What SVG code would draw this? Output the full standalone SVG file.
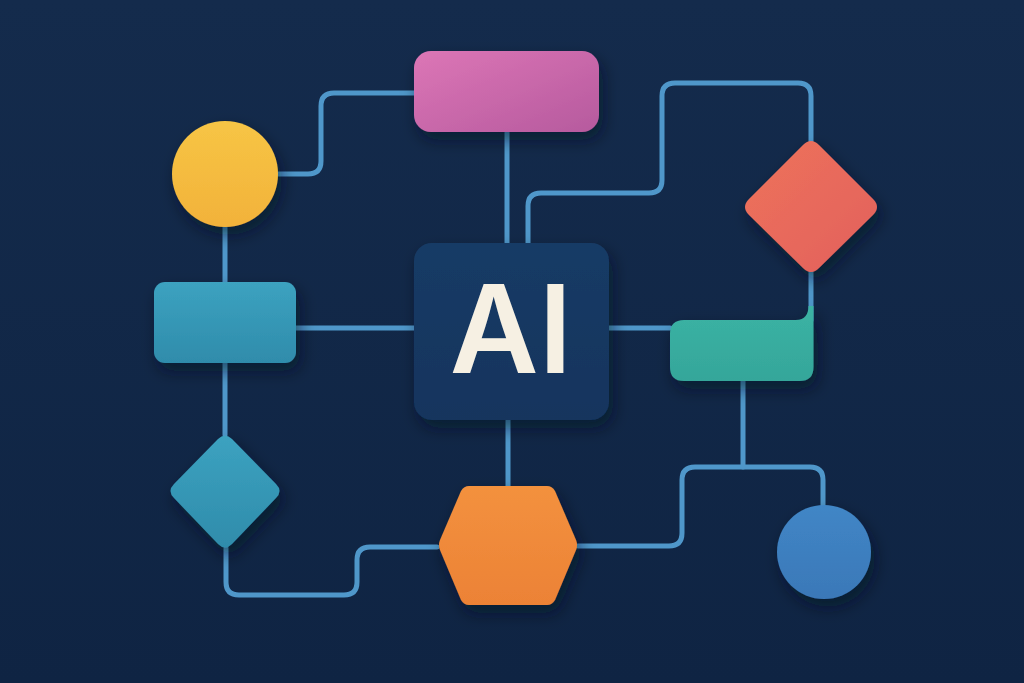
<svg xmlns="http://www.w3.org/2000/svg" width="1024" height="683" viewBox="0 0 1024 683">
<defs>
<linearGradient id="bg" x1="0" y1="0" x2="0" y2="1"><stop offset="0" stop-color="#142b4c"/><stop offset="1" stop-color="#0f2443"/></linearGradient>
<linearGradient id="gPink" x1="0" y1="0" x2="1" y2="1"><stop offset="0" stop-color="#dc76b6"/><stop offset="1" stop-color="#b65a9e"/></linearGradient>
<linearGradient id="gYel" x1="0" y1="0" x2="0" y2="1"><stop offset="0" stop-color="#f7c545"/><stop offset="1" stop-color="#f2b23a"/></linearGradient>
<linearGradient id="gTeal" x1="0" y1="0" x2="0" y2="1"><stop offset="0" stop-color="#3ca2c0"/><stop offset="1" stop-color="#2f8cab"/></linearGradient>
<linearGradient id="gAI" x1="0" y1="0" x2="0" y2="1"><stop offset="0" stop-color="#173b66"/><stop offset="1" stop-color="#13345d"/></linearGradient>
<linearGradient id="gOr" x1="0" y1="0" x2="0" y2="1"><stop offset="0" stop-color="#f3913e"/><stop offset="1" stop-color="#ec8236"/></linearGradient>
<linearGradient id="gRed" x1="0" y1="0" x2="1" y2="1"><stop offset="0" stop-color="#ee735a"/><stop offset="1" stop-color="#e2605c"/></linearGradient>
<linearGradient id="gGreen" x1="0" y1="0" x2="0" y2="1"><stop offset="0" stop-color="#3bb3a4"/><stop offset="1" stop-color="#35a69a"/></linearGradient>
<linearGradient id="gBlue" x1="0" y1="0" x2="0" y2="1"><stop offset="0" stop-color="#4186c6"/><stop offset="1" stop-color="#3a78b8"/></linearGradient>
<filter id="sh" x="-30%" y="-30%" width="160%" height="170%"><feDropShadow dx="4" dy="8" stdDeviation="8" flood-color="#050f20" flood-opacity="0.55"/></filter>
</defs>
<style>
.c{fill:none;stroke:#4f97ca;stroke-width:5;stroke-linecap:round;stroke-linejoin:round}
.t{font-family:Inter,"Open Sans","Liberation Sans",sans-serif;font-weight:600;font-size:122px;fill:#f6f0e3}
</style>
<rect width="1024" height="683" fill="url(#bg)"/>
<g id="connectors">
<path class="c" d="M278,174 H308 Q321,174 321,161 V106 Q321,93 334,93 H414"/>
<path class="c" d="M507,132 V243"/>
<path class="c" d="M528,243 V206 Q528,193 541,193 H649 Q662,193 662,180 V96 Q662,83 675,83 H798 Q811,83 811,96 V141"/>
<path class="c" d="M811,272 V320"/>
<path class="c" d="M609,328 H670"/>
<path class="c" d="M296,328 H414"/>
<path class="c" d="M225,227 V282"/>
<path class="c" d="M225,363 V435"/>
<path class="c" d="M226,548 V582 Q226,595 239,595 H344 Q357,595 357,582 V560 Q357,547 370,547 H437"/>
<path class="c" d="M508,420 V486"/>
<path class="c" d="M578,546 H669 Q682,546 682,533 V480 Q682,467 695,467 H810 Q823,467 823,480 V505"/>
<path class="c" d="M743,381 V467"/>
</g>
<g id="pink-rect"><rect x="414" y="51" width="185" height="81" rx="17" fill="url(#gPink)" filter="url(#sh)"/></g>
<g id="yellow-circle"><circle cx="225" cy="174" r="53" fill="url(#gYel)" filter="url(#sh)"/></g>
<g id="teal-rect"><rect x="154" y="282" width="142" height="81" rx="11" fill="url(#gTeal)" filter="url(#sh)"/></g>
<g id="teal-diamond"><path d="M218,439 Q225,432 232,439 L276,484 Q283,491 276,498 L232,544 Q225,551 218,544 L174,498 Q167,491 174,484 Z" fill="url(#gTeal)" filter="url(#sh)"/></g>
<g id="ai-box"><rect x="414" y="243" width="195" height="177" rx="18" fill="url(#gAI)" filter="url(#sh)"/><text class="t" x="511" y="373" text-anchor="middle">AI</text></g>
<g id="orange-hexagon"><path d="M469,486 H547 Q552,486 555,491 L576,540 Q578,545 576,550 L555,600 Q552,605 547,605 H469 Q464,605 461,600 L440,550 Q438,545 440,540 L461,491 Q464,486 469,486 Z" fill="url(#gOr)" filter="url(#sh)"/></g>
<g id="red-diamond"><path d="M803,145 Q811,137 819,145 L873,199 Q881,207 873,215 L819,268 Q811,276 803,268 L749,215 Q741,207 749,199 Z" fill="url(#gRed)" filter="url(#sh)"/></g>
<g id="green-rect"><path d="M684,320 H796 C805,320 808.5,314 808.5,306 H813.5 V367 Q813.5,381 799.5,381 H684 Q670,381 670,367 V334 Q670,320 684,320 Z" fill="url(#gGreen)" filter="url(#sh)"/></g>
<g id="blue-circle"><circle cx="824" cy="552" r="47" fill="url(#gBlue)" filter="url(#sh)"/></g>
</svg>
